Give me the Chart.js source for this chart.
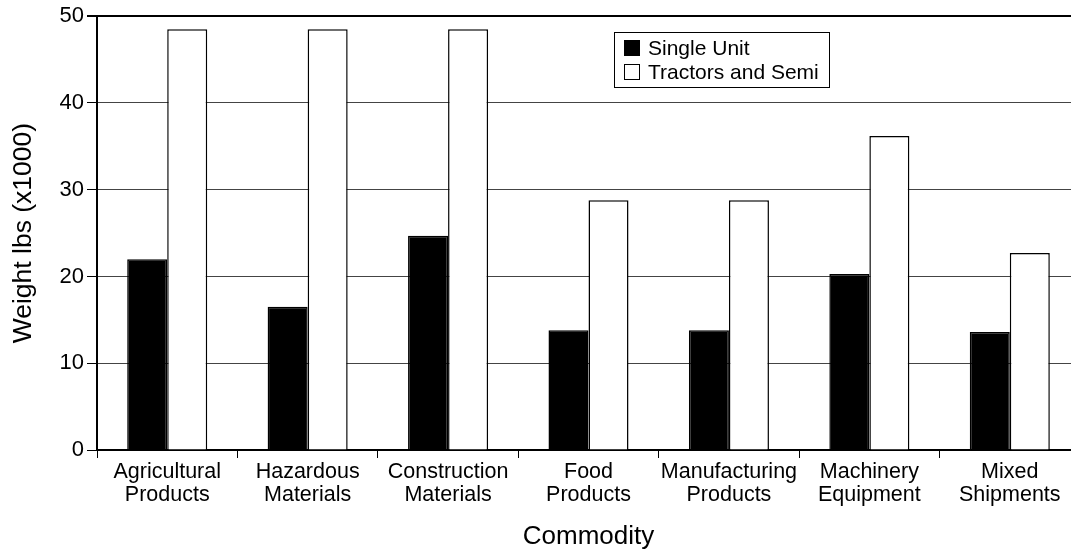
<!DOCTYPE html>
<html>
<head>
<meta charset="utf-8">
<script src="https://cdn.jsdelivr.net/npm/chart.js@4"></script>
<style>
    html, body { margin: 0; padding: 0; background: #fff; overflow: hidden; }
    #wrap { position: relative; width: 1090px; height: 555px; }
</style>
</head>
<body>
<div id="wrap"><canvas id="chart"></canvas></div>
<script>
const categories = [
    ['Agricultural', 'Products'],
    ['Hazardous', 'Materials'],
    ['Construction', 'Materials'],
    ['Food', 'Products'],
    ['Manufacturing', 'Products'],
    ['Machinery', 'Equipment'],
    ['Mixed', 'Shipments']
];
const singleUnit = [22, 16.5, 24.7, 13.8, 13.8, 20.3, 13.6];
const tractorsSemi = [48.5, 48.5, 48.5, 28.8, 28.8, 36.2, 22.7];
const seriesNames = ['Single Unit', 'Tractors and Semi'];
const yTicks = [0, 10, 20, 30, 40, 50];

const FONT = '"Liberation Sans", Arial, Helvetica, sans-serif';

// legend box sitting inside the plot, like the original
const boxLegend = {
    id: 'boxLegend',
    afterDraw(chart) {
        const ctx = chart.ctx;
        const x = 614, y = 32, w = 215, h = 55;
        ctx.save();
        ctx.fillStyle = '#fff';
        ctx.fillRect(x, y, w, h);
        ctx.strokeStyle = '#000';
        ctx.lineWidth = 1;
        ctx.strokeRect(x + 0.5, y + 0.5, w, h);
        ctx.font = '21px ' + FONT;
        ctx.textBaseline = 'middle';
        chart.data.datasets.forEach((ds, i) => {
            const rowY = y + 16 + i * 24;
            ctx.fillStyle = ds.backgroundColor;
            ctx.fillRect(x + 10, rowY - 8, 16, 16);
            ctx.strokeRect(x + 10.5, rowY - 7.5, 15, 15);
            ctx.fillStyle = '#000';
            ctx.fillText(ds.label, x + 34, rowY + 1);
        });
        ctx.restore();
    }
};

new Chart(document.getElementById('chart'), {
    type: 'bar',
    data: {
        labels: categories,
        datasets: [
            {
                label: seriesNames[0],
                data: singleUnit,
                backgroundColor: '#000',
                borderColor: '#000',
                borderWidth: 1.5
            },
            {
                label: seriesNames[1],
                data: tractorsSemi,
                backgroundColor: '#fff',
                borderColor: '#000',
                borderWidth: 1.5
            }
        ]
    },
    options: {
        responsive: true,
        maintainAspectRatio: false,
        animation: false,
        datasets: {
            bar: { categoryPercentage: 0.57, barPercentage: 1.0 }
        },
        layout: { padding: { top: 14, right: 10, bottom: 0, left: 0 } },
        plugins: {
            legend: { display: false },
            tooltip: { enabled: false }
        },
        scales: {
            x: {
                offset: true,
                grid: {
                    offset: true,
                    drawOnChartArea: false,
                    drawTicks: true,
                    tickLength: 8,
                    tickColor: '#000',
                    tickWidth: 1
                },
                border: { display: true, color: '#000', width: 2 },
                ticks: {
                    color: '#000',
                    font: { family: FONT, size: 21.5, lineHeight: 1.1 },
                    padding: 2,
                    maxRotation: 0,
                    autoSkip: false
                },
                title: {
                    display: true,
                    text: 'Commodity',
                    color: '#000',
                    font: { family: FONT, size: 26 },
                    padding: { top: 0, bottom: 3 }
                },
                afterFit(scale) { scale.height = 105; }
            },
            y: {
                min: 0,
                max: 50,
                afterBuildTicks(scale) {
                    scale.ticks = yTicks.map(v => ({ value: v }));
                },
                grid: {
                    color: c => (c.tick && c.tick.value === 50 ? '#000' : '#444'),
                    lineWidth: c => (c.tick && c.tick.value === 50 ? 2 : 1),
                    tickColor: '#000',
                    tickLength: 10,
                    drawTicks: true
                },
                border: { display: true, color: '#000', width: 2 },
                ticks: {
                    color: '#000',
                    font: { family: FONT, size: 22 },
                    padding: 3
                },
                title: {
                    display: true,
                    text: 'Weight lbs (x1000)',
                    color: '#000',
                    font: { family: FONT, size: 26.5 },
                    padding: { top: 8, bottom: 0 }
                },
                afterFit(scale) { scale.width = 97; }
            }
        }
    },
    plugins: [boxLegend]
});
</script>
</body>
</html>
